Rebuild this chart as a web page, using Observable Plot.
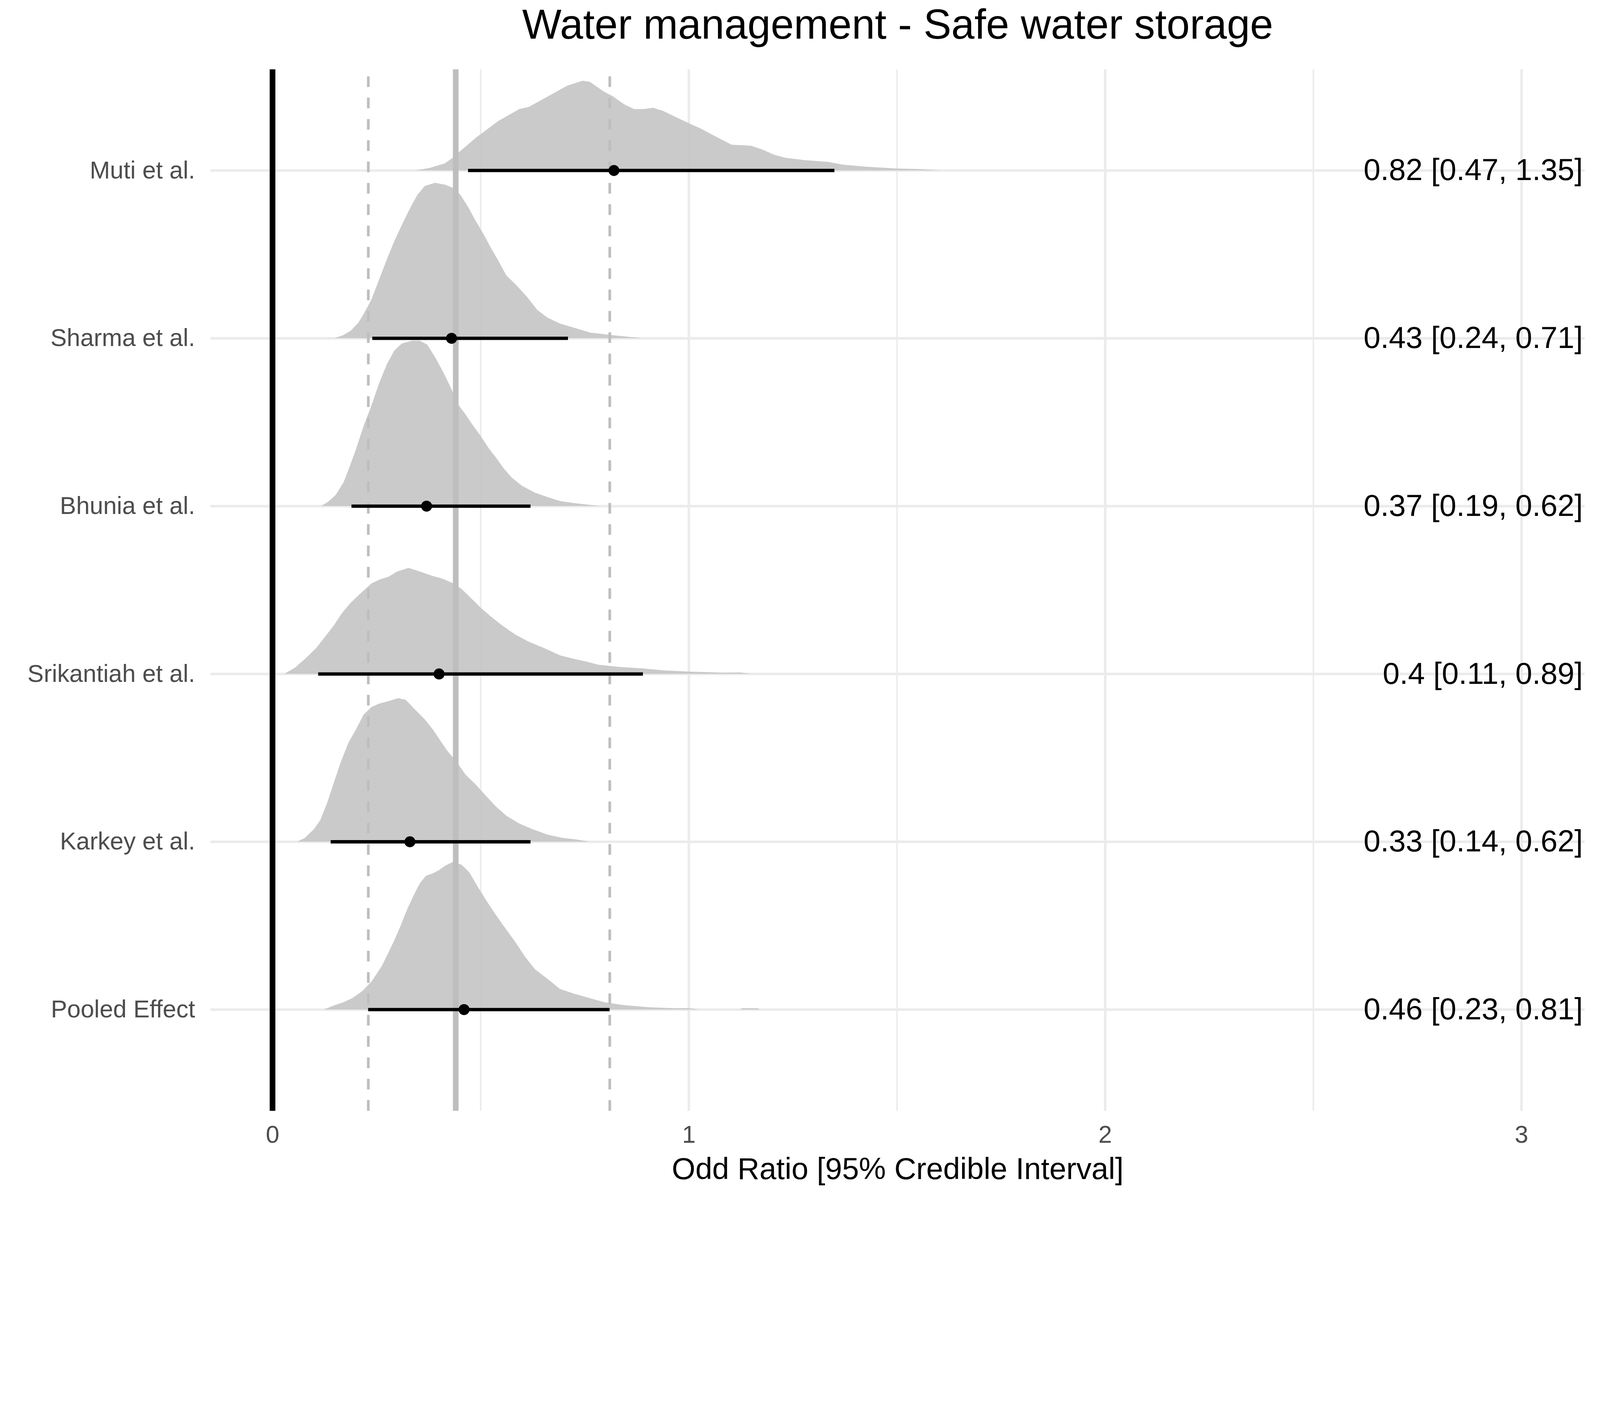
<!DOCTYPE html>
<html>
<head>
<meta charset="utf-8">
<script src="https://cdn.jsdelivr.net/npm/d3@7"></script>
<script src="https://cdn.jsdelivr.net/npm/@observablehq/plot@0.6"></script>
<style>
  html, body { margin: 0; padding: 0; background: #fff; overflow: hidden; }
  #vis svg { display: block; }
</style>
</head>
<body>
<div id="vis"></div>
<script>
// studies, bottom row first
const studies = ["Pooled Effect", "Karkey et al.", "Srikantiah et al.", "Bhunia et al.", "Sharma et al.", "Muti et al."]
const estimate = [0.46, 0.33, 0.40, 0.37, 0.43, 0.82]
const lower = [0.23, 0.14, 0.11, 0.19, 0.24, 0.47]
const upper = [0.81, 0.62, 0.89, 0.62, 0.71, 1.35]
const pooledCentre = 0.44   // solid grey reference line
const nullValue = 0
const xTicks = [0, 1, 2, 3]
const xMinor = [0.5, 1.5, 2.5]
const xDomain = [-0.149, 3.152]
const yDomain = [-0.604, 5.602]
const title = "Water management - Safe water storage"
const xLabel = "Odd Ratio [95% Credible Interval]"

// posterior densities: [odds ratio, height in row units]
const pooledDensity = [[0.124,0],[0.147,0.023],[0.171,0.043],[0.193,0.069],[0.216,0.109],[0.239,0.169],[0.262,0.255],[0.278,0.334],[0.293,0.413],[0.308,0.499],[0.324,0.598],[0.339,0.678],[0.354,0.751],[0.369,0.797],[0.385,0.810],[0.400,0.830],[0.415,0.856],[0.434,0.880],[0.454,0.863],[0.473,0.817],[0.492,0.737],[0.515,0.645],[0.538,0.559],[0.561,0.479],[0.584,0.400],[0.607,0.314],[0.630,0.241],[0.661,0.182],[0.691,0.122],[0.722,0.096],[0.760,0.069],[0.798,0.043],[0.844,0.026],[0.905,0.013],[0.967,0.007],[0.998,0.008],[1.024,0],[1.124,0],[1.128,0.007],[1.166,0.007],[1.170,0]]
const karkeyDensity = [[0.060,0],[0.078,0.022],[0.100,0.075],[0.115,0.128],[0.131,0.227],[0.146,0.339],[0.164,0.472],[0.183,0.591],[0.201,0.670],[0.219,0.756],[0.238,0.802],[0.256,0.822],[0.281,0.839],[0.302,0.855],[0.320,0.845],[0.342,0.789],[0.366,0.729],[0.385,0.670],[0.403,0.604],[0.421,0.538],[0.440,0.485],[0.464,0.399],[0.489,0.339],[0.513,0.273],[0.538,0.207],[0.562,0.154],[0.593,0.108],[0.624,0.075],[0.661,0.042],[0.697,0.022],[0.728,0.014],[0.761,0]]
const srikantiahDensity = [[0.029,0],[0.055,0.038],[0.082,0.097],[0.105,0.153],[0.124,0.213],[0.147,0.286],[0.166,0.358],[0.186,0.418],[0.208,0.471],[0.239,0.540],[0.259,0.563],[0.278,0.577],[0.300,0.610],[0.327,0.631],[0.354,0.610],[0.385,0.583],[0.408,0.567],[0.434,0.540],[0.454,0.507],[0.477,0.451],[0.500,0.395],[0.523,0.345],[0.553,0.286],[0.584,0.233],[0.614,0.193],[0.653,0.153],[0.691,0.110],[0.722,0.091],[0.752,0.074],[0.783,0.054],[0.829,0.042],[0.890,0.032],[0.944,0.020],[1.005,0.013],[1.082,0.007],[1.124,0.008],[1.149,0]]
const bhuniaDensity = [[0.117,0],[0.134,0.025],[0.152,0.066],[0.171,0.141],[0.186,0.237],[0.201,0.340],[0.219,0.476],[0.238,0.599],[0.256,0.729],[0.275,0.845],[0.293,0.927],[0.311,0.968],[0.336,0.985],[0.354,0.985],[0.372,0.961],[0.391,0.886],[0.409,0.804],[0.428,0.709],[0.446,0.606],[0.464,0.545],[0.483,0.476],[0.501,0.415],[0.519,0.347],[0.538,0.285],[0.556,0.223],[0.575,0.169],[0.599,0.121],[0.630,0.080],[0.661,0.053],[0.691,0.029],[0.722,0.018],[0.786,0]]
const sharmaDensity = [[0.149,0],[0.171,0.019],[0.189,0.046],[0.207,0.094],[0.222,0.156],[0.238,0.231],[0.256,0.347],[0.275,0.470],[0.293,0.579],[0.311,0.675],[0.330,0.771],[0.348,0.853],[0.366,0.907],[0.391,0.926],[0.415,0.914],[0.437,0.893],[0.452,0.853],[0.471,0.778],[0.489,0.696],[0.507,0.621],[0.525,0.538],[0.544,0.456],[0.562,0.374],[0.587,0.313],[0.612,0.245],[0.636,0.169],[0.661,0.122],[0.691,0.087],[0.722,0.064],[0.764,0.033],[0.813,0.019],[0.887,0]]
const mutiDensity = [[0.343,0],[0.377,0.014],[0.414,0.041],[0.437,0.081],[0.451,0.114],[0.488,0.193],[0.542,0.293],[0.593,0.365],[0.616,0.378],[0.662,0.441],[0.708,0.504],[0.745,0.534],[0.763,0.527],[0.795,0.471],[0.818,0.441],[0.846,0.392],[0.869,0.365],[0.892,0.365],[0.914,0.373],[0.938,0.355],[0.965,0.322],[1.002,0.279],[1.029,0.249],[1.066,0.200],[1.103,0.153],[1.149,0.147],[1.177,0.124],[1.204,0.094],[1.232,0.075],[1.278,0.061],[1.333,0.051],[1.370,0.034],[1.425,0.022],[1.498,0.011],[1.553,0.008],[1.604,0]]

const densities = [pooledDensity, karkeyDensity, srikantiahDensity, bhuniaDensity, sharmaDensity, mutiDensity]
const rowIndex = studies.map((s, i) => i)

const summary = studies.map((s, i) => ({
  study: s, row: i, est: estimate[i], lower: lower[i], upper: upper[i],
  label: `${estimate[i]} [${lower[i]}, ${upper[i]}]`
}))

const ridges = densities.flatMap((dens, i) =>
  dens.map(([x, h]) => ({study: studies[i], x, base: i, top: i + h})))

const font = '"Liberation Sans", Arial, sans-serif'

let chart = Plot.plot({
  width: 4800,
  height: 3600,
  marginLeft: 631,
  marginRight: 46,
  marginTop: 208,
  marginBottom: 267,
  x: {domain: xDomain},
  y: {domain: yDomain},
  style: {fontFamily: font, color: "#4D4D4D", background: "#fff"},
  marks: [
    // grid
    Plot.ruleX(xMinor, {stroke: "#EBEBEB", strokeWidth: 4.5}),
    Plot.ruleX(xTicks, {stroke: "#EBEBEB", strokeWidth: 7.5}),
    Plot.ruleY(rowIndex, {stroke: "#EBEBEB", strokeWidth: 7.5}),
    // ridges
    Plot.areaY(ridges, {x: "x", y1: "base", y2: "top", z: "study", fill: "#C4C4C4", fillOpacity: 0.9}),
    // reference lines
    Plot.ruleX([nullValue], {stroke: "#000", strokeWidth: 17}),
    Plot.ruleX([pooledCentre], {stroke: "#BEBEBE", strokeWidth: 17}),
    Plot.ruleX([lower[0], upper[0]], {y1: yDomain[0], y2: yDomain[1], stroke: "#BEBEBE", strokeWidth: 8, strokeDasharray: "32,32"}),
    // intervals
    Plot.ruleY(summary, {y: "row", x1: "lower", x2: "upper", stroke: "#000", strokeWidth: 10}),
    Plot.dot(summary, {x: "est", y: "row", r: 16.5, fill: "#000"}),
    Plot.text(summary, {y: "row", text: "label", frameAnchor: "right", textAnchor: "end", dx: -6, fontSize: 91, fill: "#000"}),
    // axes
    Plot.axisX(xTicks, {tickSize: 0, tickPadding: 44, fontSize: 73, tickFormat: d => String(d), label: null}),
    Plot.axisY(rowIndex, {tickSize: 0, tickPadding: 46, fontSize: 73, tickFormat: i => studies[i], label: null}),
    Plot.text([xLabel], {text: d => d, frameAnchor: "bottom", lineAnchor: "bottom", dy: 204, fontSize: 91, fill: "#000"}),
    Plot.text([title], {text: d => d, frameAnchor: "top", lineAnchor: "bottom", dy: -92, fontSize: 125, fill: "#000"})
  ]
})

d3.select('#vis').append(() => chart)
</script>
</body>
</html>
